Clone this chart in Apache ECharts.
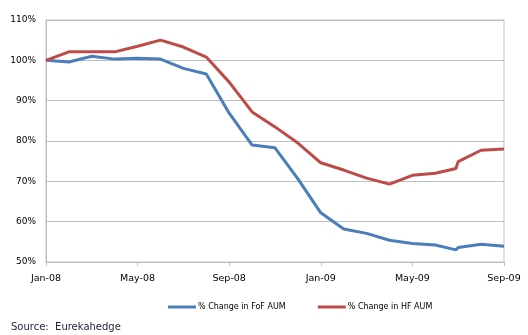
<!DOCTYPE html>
<html>
<head>
<meta charset="utf-8">
<script src="https://cdn.jsdelivr.net/npm/echarts@6/dist/echarts.min.js"></script>
<style>html,body{margin:0;padding:0;background:#fff;}#c{width:528px;height:335px;}</style>
</head>
<body>
<div id="c"></div>
<script>
const dates = ['2008-01-01','2008-02-01','2008-03-01','2008-04-01','2008-05-01','2008-06-01','2008-07-01','2008-08-01','2008-09-01','2008-10-01','2008-11-01','2008-12-01','2009-01-01','2009-02-01','2009-03-01','2009-04-01','2009-05-01','2009-06-01','2009-06-28','2009-07-01','2009-08-01','2009-09-01'];
const fofAUM = [100, 99.6, 101.0, 100.3, 100.5, 100.3, 98.0, 96.6, 86.9, 79.0, 78.3, 70.6, 62.2, 58.2, 57.1, 55.4, 54.6, 54.2, 53.0, 53.6, 54.4, 53.9];
const hfAUM = [100, 102.1, 102.1, 102.1, 103.5, 105.0, 103.3, 100.8, 94.6, 87.2, 83.5, 79.5, 74.6, 72.8, 70.8, 69.3, 71.5, 72.0, 73.2, 74.9, 77.7, 78.0];
const tickLabels = ['Jan-08','May-08','Sep-08','Jan-09','May-09','Sep-09'];
const seriesNames = ['% Change in FoF AUM','% Change in HF AUM'];
const sourceText = 'Source:  Eurekahedge';

function monthIndex(s) {
  const [y, m, d] = s.split('-').map(Number);
  const dim = new Date(y, m, 0).getDate();
  return (y - 2008) * 12 + (m - 1) + (d - 1) / dim;
}
const xs = dates.map(monthIndex);
const pairs = vals => vals.map((v, i) => [xs[i], v]);

const chart = echarts.init(document.getElementById('c'));
const font = 'DejaVu Sans';
chart.setOption({
  animation: false,
  backgroundColor: '#fff',
  title: {
    text: sourceText, left: 6, top: 317,
    textStyle: { fontFamily: font, fontSize: 10, fontWeight: 'normal', color: '#1f1f3f' }
  },
  grid: { left: 46, right: 24, top: 20, bottom: 73, show: true, borderColor: '#bfbfbf', borderWidth: 1 },
  legend: {
    left: 163, top: 298, itemGap: 32, itemWidth: 28, itemHeight: 3, icon: 'rect',
    textStyle: { fontFamily: font, fontSize: 8, color: '#000', padding: [0,0,0,-3] },
    data: seriesNames
  },
  xAxis: {
    type: 'value', min: 0, max: 20, interval: 4,
    axisLine: { show: true, lineStyle: { color: '#bfbfbf', width: 1 } },
    axisTick: { show: true, length: 4, lineStyle: { color: '#bfbfbf' } },
    splitLine: { show: false },
    axisLabel: { margin: 12, fontFamily: font, fontSize: 9.5, color: '#000', formatter: v => tickLabels[Math.round(v / 4)] }
  },
  yAxis: {
    type: 'value', min: 50, max: 110, interval: 10,
    axisLine: { show: true, lineStyle: { color: '#bfbfbf', width: 1 } },
    axisTick: { show: false },
    splitLine: { show: true, lineStyle: { color: '#bfbfbf', width: 1 } },
    axisLabel: { margin: 10, fontFamily: font, fontSize: 9, color: '#000', formatter: '{value}%' }
  },
  series: [
    { name: seriesNames[0], type: 'line', data: pairs(fofAUM), showSymbol: false, symbol: 'none',
      lineStyle: { color: '#4a7ebb', width: 3 }, itemStyle: { color: '#4a7ebb' } },
    { name: seriesNames[1], type: 'line', data: pairs(hfAUM), showSymbol: false, symbol: 'none',
      lineStyle: { color: '#be4b48', width: 3 }, itemStyle: { color: '#be4b48' } }
  ]
});
</script>
</body>
</html>
